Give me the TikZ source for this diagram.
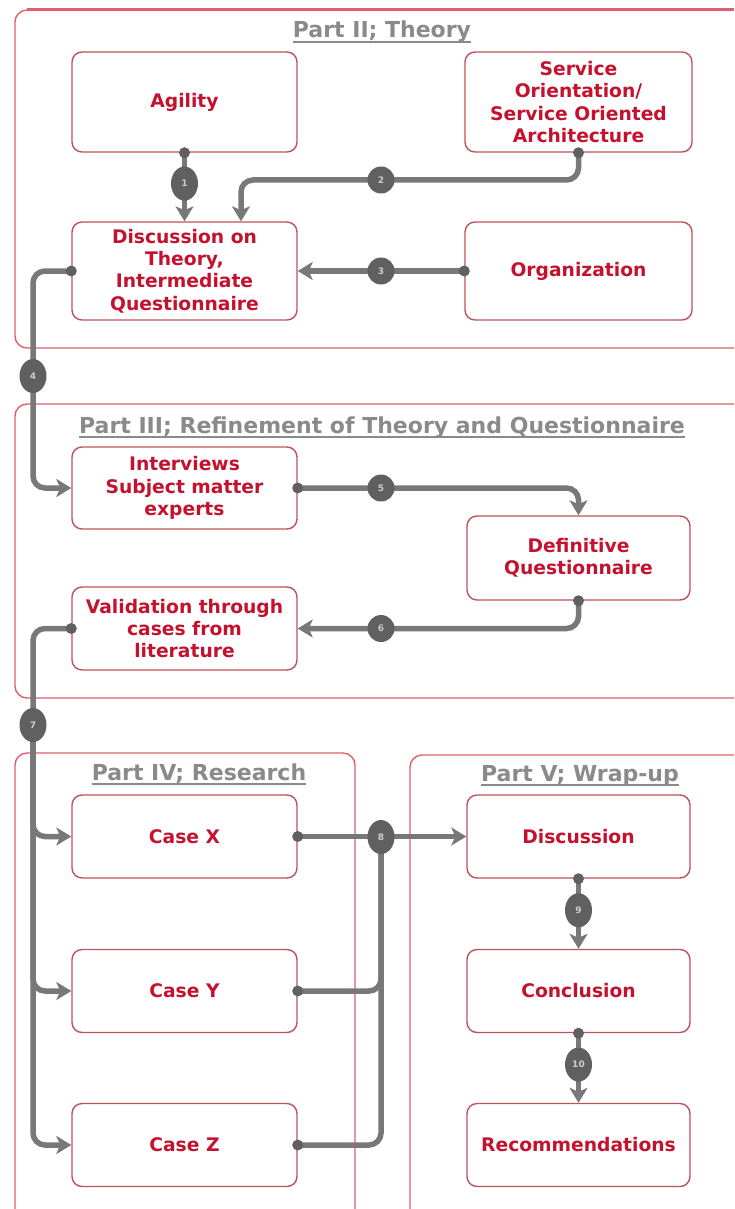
\documentclass[tikz,border=0pt]{standalone}
\usepackage{fontspec}
\setmainfont{DejaVu Sans}
\usetikzlibrary{arrows.meta,shapes.geometric,calc}

\definecolor{framered}{RGB}{222,96,108}
\definecolor{boxred}{RGB}{190,82,92}
\definecolor{txtred}{RGB}{196,18,46}
\definecolor{headgray}{RGB}{138,138,138}
\definecolor{flowgray}{RGB}{120,120,120}
\definecolor{badgegray}{RGB}{96,96,96}
\definecolor{badgetxt}{RGB}{205,205,205}

\begin{document}
\begin{tikzpicture}[x=1pt,y=-1pt,
  box/.style={draw=boxred, line width=1.4pt, rounded corners=10pt, fill=white,
    text=txtred, font=\bfseries\fontsize{18.7}{22.4}\selectfont, align=center,
    minimum width=225pt, inner sep=2pt},
  frame/.style={draw=framered, line width=1.4pt, rounded corners=12pt},
  heading/.style={text=headgray, font=\bfseries\fontsize{22}{26}\selectfont,
    inner sep=0pt, anchor=base},
  flow/.style={draw=flowgray, line width=5.5pt, rounded corners=12pt},
  tip/.style={-{Stealth[length=15pt,width=18pt,inset=4pt]}},
  badge/.style={circle, fill=badgegray, minimum size=27pt, inner sep=0pt,
    text=badgetxt, font=\bfseries\fontsize{9}{9}\selectfont},
  vbadge/.style={ellipse, fill=badgegray, minimum width=27pt, minimum height=34pt,
    inner sep=0pt, text=badgetxt, font=\bfseries\fontsize{9}{9}\selectfont},
  dot/.style={circle, fill=badgegray, minimum size=11pt, inner sep=0pt}
]
\clip (0,0) rectangle (734,1209);
\fill[white] (0,0) rectangle (734,1209);

% section frames
\draw[frame] (15,10) rectangle (770,348);
\draw[framered, line width=3pt] (27,10) -- (734,10);
\draw[frame] (15,404) rectangle (770,698);
\draw[frame] (15,753) rectangle (355,1250);
\draw[frame] (410,755) rectangle (770,1250);

% section headings
\node[heading] (h2) at (382,38) {Part II; Theory};
\node[heading] (h3) at (382,433) {Part III; Refinement of Theory and Questionnaire};
\node[heading] (h4) at (199,780) {Part IV; Research};
\node[heading] (h5) at (580,781) {Part V; Wrap-up};
\foreach \h in {h2,h3,h4,h5}
  \draw[headgray, line width=1.3pt] ([yshift=-4pt]\h.base west) -- ([yshift=-4pt]\h.base east);

% boxes
\node[box, minimum height=100pt] (agility) at (184.5,102) {Agility};
\node[box, minimum height=100pt, minimum width=227pt] (soa) at (578.5,102)
  {Service\\Orientation/\\Service Oriented\\Architecture};
\node[box, minimum height=98pt] (disc) at (184.5,271)
  {Discussion on\\Theory,\\Intermediate\\Questionnaire};
\node[box, minimum height=98pt, minimum width=227pt] (org) at (578.5,271) {Organization};

\node[box, minimum height=82pt] (interv) at (184.5,488)
  {Interviews\\Subject matter\\experts};
\node[box, minimum height=84pt, minimum width=223pt] (defq) at (578.5,558)
  {Definitive\\Questionnaire};
\node[box, minimum height=83pt] (valid) at (184.5,628.5)
  {Validation through\\cases from\\literature};

\node[box, minimum height=83pt] (casex) at (184.5,836.5) {Case X};
\node[box, minimum height=83pt] (casey) at (184.5,991) {Case Y};
\node[box, minimum height=83pt] (casez) at (184.5,1145) {Case Z};
\node[box, minimum height=83pt, minimum width=223pt] (discu) at (578.5,836.5) {Discussion};
\node[box, minimum height=83pt, minimum width=223pt] (concl) at (578.5,991) {Conclusion};
\node[box, minimum height=83pt, minimum width=223pt] (recom) at (578.5,1145) {Recommendations};

% bend points
\coordinate (k2) at (241,180);
\coordinate (k4) at (33,376);
\coordinate (k7) at (33,725);
\coordinate (k8) at (381,837);

% connectors
\draw[flow,tip] (agility.south) -- (disc.north);
\draw[flow,tip] (soa.south) |- (k2) -- (k2 |- disc.north);
\draw[flow,tip] (org.west) -- (disc.east);
\draw[flow,tip] (disc.west) -| (k4) |- (interv.west);
\draw[flow,tip] (interv.east) -| (defq.north);
\draw[flow,tip] (defq.south) |- (valid.east);
\draw[flow,tip] (valid.west) -| (k7) |- (casez.west);
\draw[flow,tip] (k7) |- (casex.west);
\draw[flow,tip] (k7) |- (casey.west);
\draw[flow,tip] (casex.east) -- (discu.west);
\draw[flow] (casey.east) -| (k8);
\draw[flow] (casez.east) -| (k8);
\draw[flow,tip] (discu.south) -- (concl.north);
\draw[flow,tip] (concl.south) -- (recom.north);

% start dots
\foreach \p in {agility.south, soa.south, org.west, disc.west, interv.east,
  defq.south, valid.west, casex.east, casey.east, casez.east, discu.south, concl.south}
  \node[dot] at (\p) {};

% step badges
\node[vbadge] (b1) at ($(agility.south)!0.45!(disc.north)$) {1};
\node[badge] (b2) at (381,180) {2};
\node[badge] (b3) at (381,271) {3};
\node[vbadge] (b4) at (k4) {4};
\node[badge] (b5) at (381,488) {5};
\node[badge] (b6) at (381,628.5) {6};
\node[vbadge] (b7) at (k7) {7};
\node[vbadge] (b8) at (k8) {8};
\node[vbadge] (b9) at ($(discu.south)!0.45!(concl.north)$) {9};
\node[vbadge] (b10) at ($(concl.south)!0.45!(recom.north)$) {10};
\end{tikzpicture}
\end{document}
